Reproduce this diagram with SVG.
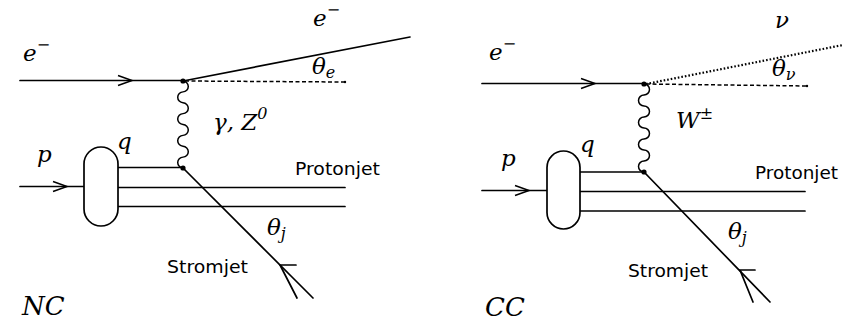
<svg xmlns="http://www.w3.org/2000/svg" xmlns:xlink="http://www.w3.org/1999/xlink" width="852" height="322" viewBox="0 0 852 322">
<style>
.ln{fill:none;stroke:#000;stroke-width:1.7;stroke-linecap:round}
.thin{fill:none;stroke:#000;stroke-width:1.5}
.dash{fill:none;stroke:#000;stroke-width:1.5;stroke-dasharray:4 2.5}
.dot{fill:none;stroke:#000;stroke-width:2.2;stroke-dasharray:1.6 2}
.vx{fill:#000}
.blob{fill:#fff;stroke:#000;stroke-width:1.7}
.m{font-family:"DejaVu Serif",serif;font-style:italic;font-size:23px;fill:#000}
.sub{font-size:16px}
.sans{font-family:"DejaVu Sans","Liberation Sans",sans-serif;font-size:17px;fill:#000}
.big{font-family:"DejaVu Serif",serif;font-style:italic;font-size:26px;fill:#000}
</style>
<defs>
<path id="chev" d="M-14,-5 L0,0 L-14,5" fill="none" stroke="#000" stroke-width="1.5"/>
</defs>
<g id="connectors">
<!-- NC -->
<path class="ln" d="M20,80.5 H183"/>
<path class="ln" d="M183,81 L410,37"/>
<path class="dash" d="M185,81 L345,82"/>
<path class="thin" d="M183,81 a5.44,5.44 0 0 1 0,10.875 a5.44,5.44 0 0 0 0,10.875 a5.44,5.44 0 0 1 0,10.875 a5.44,5.44 0 0 0 0,10.875 a5.44,5.44 0 0 1 0,10.875 a5.44,5.44 0 0 0 0,10.875 a5.44,5.44 0 0 1 0,10.875 a5.44,5.44 0 0 0 0,10.875"/>
<path class="ln" d="M20,186.5 H84"/>
<path class="ln" d="M118,167.5 H183"/>
<path class="ln" d="M118,187.5 H345"/>
<path class="ln" d="M118,206.5 H345"/>
<path class="ln" d="M183,168 L313,298"/>
<path class="ln" d="M296,265 H280 L297,298"/>
<use xlink:href="#chev" x="132" y="80.5"/>
<use xlink:href="#chev" x="67" y="186.5"/>
<!-- CC -->
<path class="ln" d="M482,83.5 H644"/>
<path class="dot" d="M646,84 L843,45"/>
<path class="dash" d="M646,84 L807,86"/>
<path class="thin" d="M644,84 a5.5,5.5 0 0 1 0,11 a5.5,5.5 0 0 0 0,11 a5.5,5.5 0 0 1 0,11 a5.5,5.5 0 0 0 0,11 a5.5,5.5 0 0 1 0,11 a5.5,5.5 0 0 0 0,11 a5.5,5.5 0 0 1 0,11 a5.5,5.5 0 0 0 0,11"/>
<path class="ln" d="M482,190.5 H547"/>
<path class="ln" d="M580,172 H644"/>
<path class="ln" d="M580,191.5 H805"/>
<path class="ln" d="M580,211 H805"/>
<path class="ln" d="M644,172 L770,302"/>
<path class="ln" d="M755,270 H740 L753,302"/>
<use xlink:href="#chev" x="595" y="83.5"/>
<use xlink:href="#chev" x="529" y="190.5"/>
</g>
<g id="nc-electron-vertex"><circle class="vx" cx="183" cy="81" r="2.6"/><circle class="vx" cx="345" cy="82" r="1.2"/></g>
<g id="nc-quark-vertex"><circle class="vx" cx="183" cy="168" r="2.6"/></g>
<g id="nc-proton"><rect class="blob" x="84" y="147" width="34" height="79" rx="17"/></g>
<g id="nc-labels">
<text class="m" x="23" y="61">e<tspan class="sub" dy="-11">−</tspan></text>
<text class="m" x="313" y="26">e<tspan class="sub" dy="-11">−</tspan></text>
<text class="m" x="312" y="74">θ<tspan class="sub" dy="4">e</tspan></text>
<text class="m" x="213" y="130">γ, Z<tspan class="sub" dy="-11">0</tspan></text>
<text class="m" x="37" y="162">p</text>
<text class="m" x="117" y="149">q</text>
<text class="sans" x="295" y="175" textLength="85" lengthAdjust="spacingAndGlyphs">Protonjet</text>
<text class="m" x="267" y="235">θ<tspan class="sub" dy="4">j</tspan></text>
<text class="sans" x="167" y="273" textLength="81" lengthAdjust="spacingAndGlyphs">Stromjet</text>
<text class="big" x="22" y="315">NC</text>
</g>
<g id="cc-electron-vertex"><circle class="vx" cx="644" cy="84" r="2.6"/><circle class="vx" cx="807" cy="86" r="1.2"/></g>
<g id="cc-quark-vertex"><circle class="vx" cx="644" cy="172" r="2.6"/></g>
<g id="cc-proton"><rect class="blob" x="547" y="151" width="33" height="78" rx="16.5"/></g>
<g id="cc-labels">
<text class="m" x="489" y="60">e<tspan class="sub" dy="-11">−</tspan></text>
<text class="m" x="775" y="28">ν</text>
<text class="m" x="772" y="76">θ<tspan class="sub" dy="4">ν</tspan></text>
<text class="m" x="676" y="128">W<tspan class="sub" dy="-9">±</tspan></text>
<text class="m" x="501" y="166">p</text>
<text class="m" x="580" y="152">q</text>
<text class="sans" x="755" y="179" textLength="83" lengthAdjust="spacingAndGlyphs">Protonjet</text>
<text class="m" x="728" y="239">θ<tspan class="sub" dy="4">j</tspan></text>
<text class="sans" x="628" y="277" textLength="80" lengthAdjust="spacingAndGlyphs">Stromjet</text>
<text class="big" x="485" y="316">CC</text>
</g>
</svg>
